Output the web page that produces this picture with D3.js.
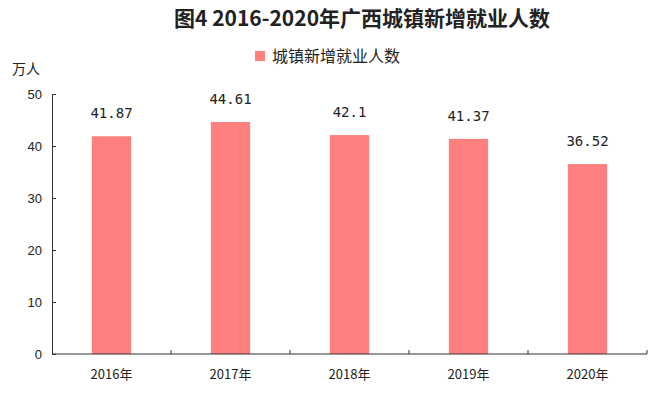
<!DOCTYPE html>
<html>
<head>
<meta charset="utf-8">
<script src="https://cdn.jsdelivr.net/npm/d3@7"></script>
<style>
  body { margin: 0; background: #fff; }
  text { font-family: "Noto Sans CJK SC", sans-serif; fill: #222; }
</style>
</head>
<body>
<script>
  var years = ["2016年", "2017年", "2018年", "2019年", "2020年"];
  var jobs = [41.87, 44.61, 42.1, 41.37, 36.52];
  var yTicks = [0, 10, 20, 30, 40, 50];
  var seriesName = "城镇新增就业人数";
  var chartTitle = "图4 2016-2020年广西城镇新增就业人数";
  var unit = "万人";

  var width = 651, height = 395;
  var plotLeft = 52, plotRight = 647, plotTop = 94, plotBottom = 354;
  var barColour = "#ff7f7f";
  var axisColour = "#333";

  var svg = d3.select("body").append("svg")
    .attr("width", width)
    .attr("height", height);

  var x = d3.scaleBand().domain(years).range([plotLeft, plotRight]).paddingInner(0.67).paddingOuter(0.335);
  var y = d3.scaleLinear().domain([0, 50]).range([plotBottom, plotTop]);

  // title
  svg.append("text")
    .attr("x", 362).attr("y", 26)
    .attr("text-anchor", "middle")
    .style("font-size", "21px")
    .style("font-weight", "bold")
    .text(chartTitle);

  // legend
  svg.append("rect")
    .attr("x", 255).attr("y", 51).attr("width", 10).attr("height", 10)
    .attr("fill", barColour);
  svg.append("text")
    .attr("x", 272).attr("y", 62)
    .style("font-size", "16px")
    .text(seriesName);

  // unit
  svg.append("text")
    .attr("x", 12).attr("y", 74)
    .style("font-size", "14px")
    .text(unit);

  // bars
  svg.selectAll("rect.bar").data(jobs).enter()
    .append("rect")
    .attr("class", "bar")
    .attr("x", function(d, i){ return x(years[i]); })
    .attr("y", function(d){ return y(d); })
    .attr("width", x.bandwidth())
    .attr("height", function(d){ return plotBottom - y(d); })
    .attr("fill", barColour);

  // value labels
  svg.selectAll("text.val").data(jobs).enter()
    .append("text")
    .attr("class", "val")
    .attr("x", function(d, i){ return x(years[i]) + x.bandwidth()/2; })
    .attr("y", function(d){ return y(d) - 18; })
    .attr("text-anchor", "middle")
    .style("font-family", "'DejaVu Sans Mono', monospace")
    .style("font-size", "14px")
    .text(function(d){ return d; });

  // y axis
  var yAxis = svg.append("g")
    .attr("transform", "translate(" + plotLeft + ",0)")
    .call(d3.axisRight(y).tickValues(yTicks).tickSize(4).tickSizeOuter(0).tickFormat(d3.format("d")));
  yAxis.select(".domain").attr("stroke", axisColour);
  yAxis.selectAll(".tick line").attr("stroke", axisColour);
  yAxis.selectAll(".tick text")
    .attr("x", -10)
    .attr("text-anchor", "end")
    .style("font-size", "13px")
    .style("font-family", "'Liberation Sans', sans-serif");

  // x axis with ticks at band edges pointing up
  svg.append("line")
    .attr("x1", plotLeft).attr("x2", plotRight)
    .attr("y1", plotBottom).attr("y2", plotBottom)
    .attr("stroke", axisColour);
  var step = x.step();
  var edges = years.map(function(d){ return x(d) + x.bandwidth()/2 + step/2; });
  svg.selectAll("line.xtick").data(edges).enter()
    .append("line")
    .attr("class", "xtick")
    .attr("x1", function(d){ return d; }).attr("x2", function(d){ return d; })
    .attr("y1", plotBottom).attr("y2", plotBottom - 4)
    .attr("stroke", axisColour);
  svg.selectAll("text.xlab").data(years).enter()
    .append("text")
    .attr("class", "xlab")
    .attr("x", function(d){ return x(d) + x.bandwidth()/2; })
    .attr("y", 379)
    .attr("text-anchor", "middle")
    .style("font-size", "13px")
    .text(function(d){ return d; });
</script>
</body>
</html>
